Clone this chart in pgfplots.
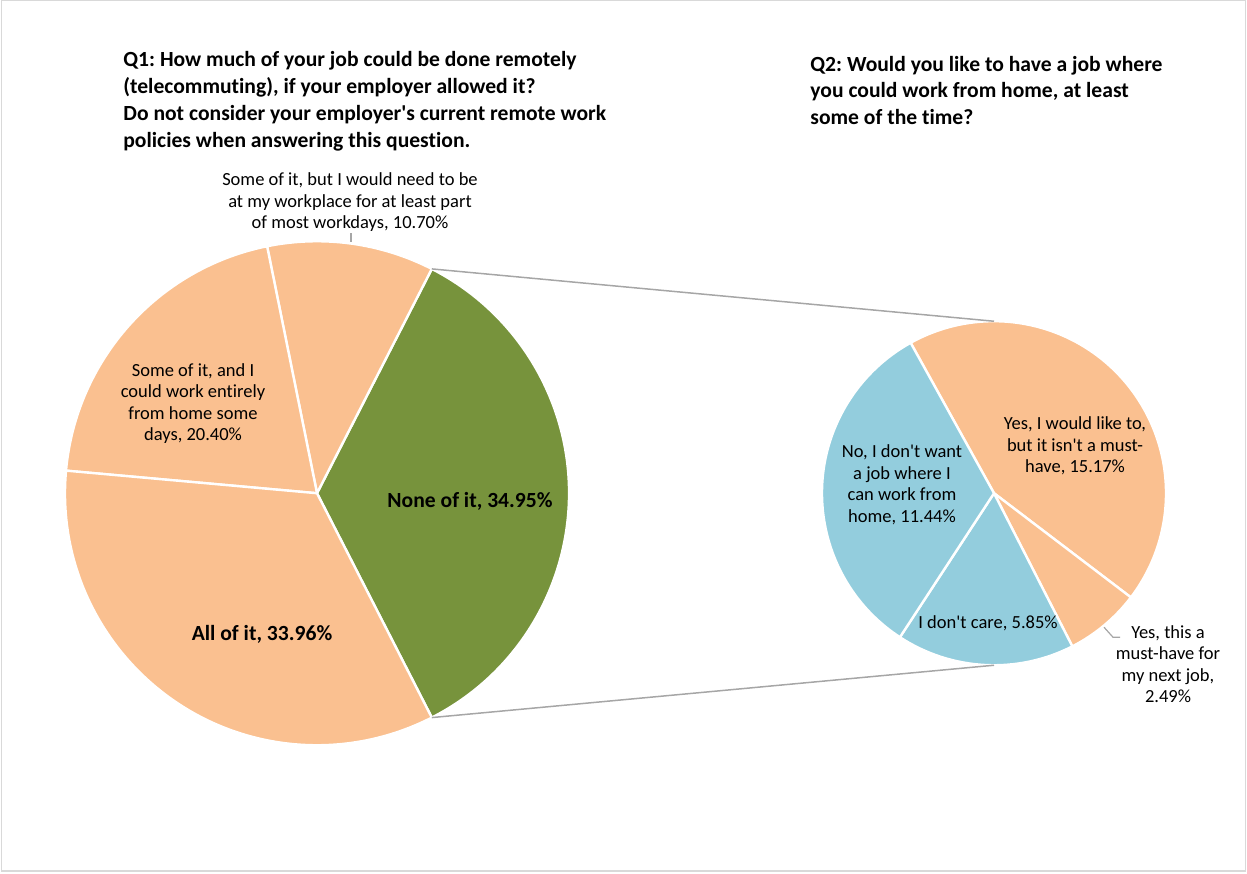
\documentclass[border=0pt]{standalone}
\usepackage{fontspec}
\setmainfont{Carlito}[Ligatures={NoCommon}]
\usepackage{pgfplots}
\pgfplotsset{compat=1.18}
\definecolor{peach}{HTML}{FAC090}
\definecolor{olive}{HTML}{77933C}
\definecolor{aqua}{HTML}{93CDDD}
\definecolor{conn}{HTML}{A6A6A6}
\definecolor{framec}{HTML}{D9D9D9}
% data (percent of all answers)
\def\Lnone{34.95}\def\Lpart{10.70}\def\Lsome{20.40}\def\Lall{33.96}
\def\Rlike{15.17}\def\Rmust{2.49}\def\Rcare{5.85}\def\Rno{11.44}
\frenchspacing
\begin{document}
\begin{tikzpicture}
\pgfmathsetmacro\LT{\Lnone+\Lpart+\Lsome+\Lall}
\pgfmathsetmacro\La{-\Lnone/\LT*180}
\pgfmathsetmacro\Lb{\La+\Lnone/\LT*360}
\pgfmathsetmacro\Lc{\Lb+\Lpart/\LT*360}
\pgfmathsetmacro\Ld{\Lc+\Lsome/\LT*360}
\pgfmathsetmacro\Le{\La+360}
\pgfmathsetmacro\RT{\Rlike+\Rmust+\Rcare+\Rno}
\pgfmathsetmacro\Ra{119}
\pgfmathsetmacro\Rb{\Ra-\Rlike/\RT*360}
\pgfmathsetmacro\Rc{\Rb-\Rmust/\RT*360}
\pgfmathsetmacro\Rd{\Rc-\Rcare/\RT*360}
\pgfmathsetmacro\Re{\Ra-360}
\begin{axis}[
  x=0.5bp, y=0.5bp,
  xmin=0, xmax=1247, ymin=0, ymax=873,
  hide axis, clip=false,
  axis line style={draw=none}, ticks=none]
\path (axis cs:0,0) rectangle (axis cs:1247,873);
\draw[framec, line width=0.75bp] (axis cs:1.5,2) rectangle (axis cs:1245.5,872.5);
% left pie
\tikzset{wedge/.style={draw=white, line width=1.2bp, line join=round}}
\fill[olive, wedge] (axis cs:317,380) -- (axis cs:{317+252*cos(\La)},{380+252*sin(\La)}) arc[start angle=\La, end angle=\Lb, radius=126bp] -- cycle;
\fill[peach, wedge] (axis cs:317,380) -- (axis cs:{317+252*cos(\Lb)},{380+252*sin(\Lb)}) arc[start angle=\Lb, end angle=\Lc, radius=126bp] -- cycle;
\fill[peach, wedge] (axis cs:317,380) -- (axis cs:{317+252*cos(\Lc)},{380+252*sin(\Lc)}) arc[start angle=\Lc, end angle=\Ld, radius=126bp] -- cycle;
\fill[peach, wedge] (axis cs:317,380) -- (axis cs:{317+252*cos(\Ld)},{380+252*sin(\Ld)}) arc[start angle=\Ld, end angle=\Le, radius=126bp] -- cycle;
% right pie
\fill[peach, wedge] (axis cs:994,380) -- (axis cs:{994+172*cos(\Ra)},{380+172*sin(\Ra)}) arc[start angle=\Ra, end angle=\Rb, radius=86bp] -- cycle;
\fill[peach, wedge] (axis cs:994,380) -- (axis cs:{994+172*cos(\Rb)},{380+172*sin(\Rb)}) arc[start angle=\Rb, end angle=\Rc, radius=86bp] -- cycle;
\fill[aqua, wedge] (axis cs:994,380) -- (axis cs:{994+172*cos(\Rc)},{380+172*sin(\Rc)}) arc[start angle=\Rc, end angle=\Rd, radius=86bp] -- cycle;
\fill[aqua, wedge] (axis cs:994,380) -- (axis cs:{994+172*cos(\Rd)},{380+172*sin(\Rd)}) arc[start angle=\Rd, end angle=\Re, radius=86bp] -- cycle;
% connectors
\draw[conn, line width=0.75bp] (axis cs:{317+252*cos(\Lb)},{380+252*sin(\Lb)}) -- (axis cs:994,552);
\draw[conn, line width=0.75bp] (axis cs:{317+252*cos(\La)},{380+252*sin(\La)}) -- (axis cs:994,208);
% leader lines
\draw[conn, line width=0.6bp] (axis cs:351,640) -- (axis cs:351,631);
\draw[conn, line width=0.6bp] (axis cs:1104,246) -- (axis cs:1113,236) -- (axis cs:1120,236);
% titles
\node[anchor=west, align=left, inner sep=0pt, font=\bfseries\fontsize{10.8bp}{13.35bp}\selectfont] at (axis cs:123,772)
 {Q1: How much of your job could be done remotely\\(telecommuting), if your employer allowed it?\\Do not consider your employer\textquotesingle s current remote work\\policies when answering this question.};
\node[anchor=west, align=left, inner sep=0pt, font=\bfseries\fontsize{10.8bp}{13.35bp}\selectfont] at (axis cs:810,783)
 {Q2: Would you like to have a job where\\you could work from home, at least\\some of the time?};
% labels
\tikzset{lab/.style={align=center, inner sep=0pt, font=\fontsize{9.25bp}{10.75bp}\selectfont}}
\tikzset{blab/.style={align=center, inner sep=0pt, font=\bfseries\fontsize{10.8bp}{13.35bp}\selectfont}}
\node[lab] at (axis cs:350,671) {Some of it, but I would need to be\\at my workplace for at least part\\of most workdays, 10.70\%};
\node[lab] at (axis cs:193,469.5) {Some of it, and I\\could work entirely\\from home some\\days, 20.40\%};
\node[blab] at (axis cs:470,372) {None of it, 34.95\%};
\node[blab] at (axis cs:262,239) {All of it, 33.96\%};
\node[lab] at (axis cs:902,388.5) {No, I don\textquotesingle t want\\a job where I\\can work from\\home, 11.44\%};
\node[lab] at (axis cs:1075,427) {Yes, I would like to,\\but it isn\textquotesingle t a must-\\have, 15.17\%};
\node[lab] at (axis cs:988,250) {I don\textquotesingle t care, 5.85\%};
\node[lab] at (axis cs:1168,209) {Yes, this a\\must-have for\\my next job,\\2.49\%};
\end{axis}
\end{tikzpicture}
\end{document}
